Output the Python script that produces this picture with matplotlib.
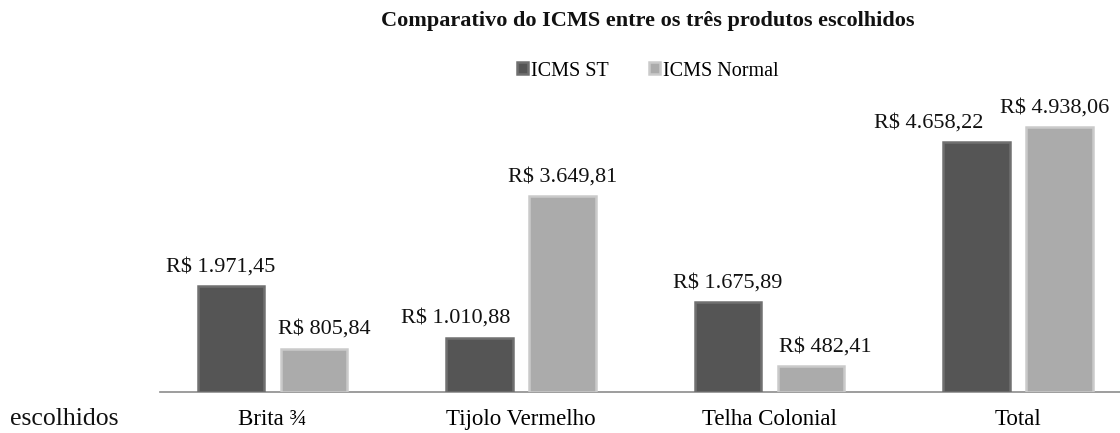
import matplotlib
matplotlib.use("Agg")
import matplotlib.pyplot as plt
import numpy as np

categories = ["Brita ¾", "Tijolo Vermelho", "Telha Colonial", "Total"]
icms_st = [1971.45, 1010.88, 1675.89, 4658.22]
icms_normal = [805.84, 3649.81, 482.41, 4938.06]
series_names = ["ICMS ST", "ICMS Normal"]
title = "Comparativo do ICMS entre os três produtos escolhidos"
stray_text = "escolhidos"


def brl(v):
    s = f"{v:,.2f}"
    s = s.replace(",", "X").replace(".", ",").replace("X", ".")
    return "R$ " + s


W, H = 1120, 433
fig = plt.figure(figsize=(W / 100, H / 100), dpi=100)
plt.rcParams['font.family'] = ['Liberation Serif', 'DejaVu Serif']

ax_l, ax_r = 160, 1120
ax_t, ax_b = 102, 392
ax = fig.add_axes([ax_l / W, 1 - ax_b / H, (ax_r - ax_l) / W, (ax_b - ax_t) / H])

x = np.arange(len(categories))
bw = 0.268
off = 0.167
dark_face, dark_edge = "#555555", "#707070"
light_face, light_edge = "#ababab", "#cacaca"

b1 = ax.bar(x - off, icms_st, bw, color=dark_face, edgecolor=dark_edge,
            linewidth=1.8, label=series_names[0], zorder=3)
b2 = ax.bar(x + off, icms_normal, bw, color=light_face, edgecolor=light_edge,
            linewidth=1.8, label=series_names[1], zorder=3)

# horizontal nudges (in pixels) of the data labels, as placed in the original
st_nudge = [-10, -24, 0, -48]
normal_nudge = [10, 0, 14, -5]
for xi, v, dx in zip(x - off, icms_st, st_nudge):
    ax.annotate(brl(v), (xi, v), xytext=(dx * 0.72, 7), textcoords="offset points",
                ha="center", va="bottom", fontsize=16, color="#111111")
for xi, v, dx in zip(x + off, icms_normal, normal_nudge):
    ax.annotate(brl(v), (xi, v), xytext=(dx * 0.72, 7), textcoords="offset points",
                ha="center", va="bottom", fontsize=16, color="#111111")

ax.set_xlim(-0.4527, 3.4105)
ax.set_ylim(0, 5400)
ax.set_xticks(x)
ax.set_xticklabels(categories, fontsize=16.5)
ax.tick_params(axis="x", length=0, pad=12)
ax.set_yticks([])
for s in ["top", "right", "left"]:
    ax.spines[s].set_visible(False)
ax.spines["bottom"].set_color("#8c8c8c")
ax.spines["bottom"].set_linewidth(1.2)

fig.text(648 / W, 1 - 21 / H, title, ha="center", va="center",
         fontsize=16, fontweight="bold", color="#111111")
fig.legend(handles=[b1, b2], labels=series_names, loc="center",
           bbox_to_anchor=(648 / W, 1 - 71 / H), ncol=2, frameon=False,
           fontsize=14.5, handlelength=0.55, handleheight=0.55,
           handletextpad=0.15, columnspacing=2.0)
fig.text(10 / W, 1 - 419 / H, stray_text, ha="left", va="center",
         fontsize=18.5, color="#111111")

fig.savefig("out.png", dpi=100, facecolor="white")
